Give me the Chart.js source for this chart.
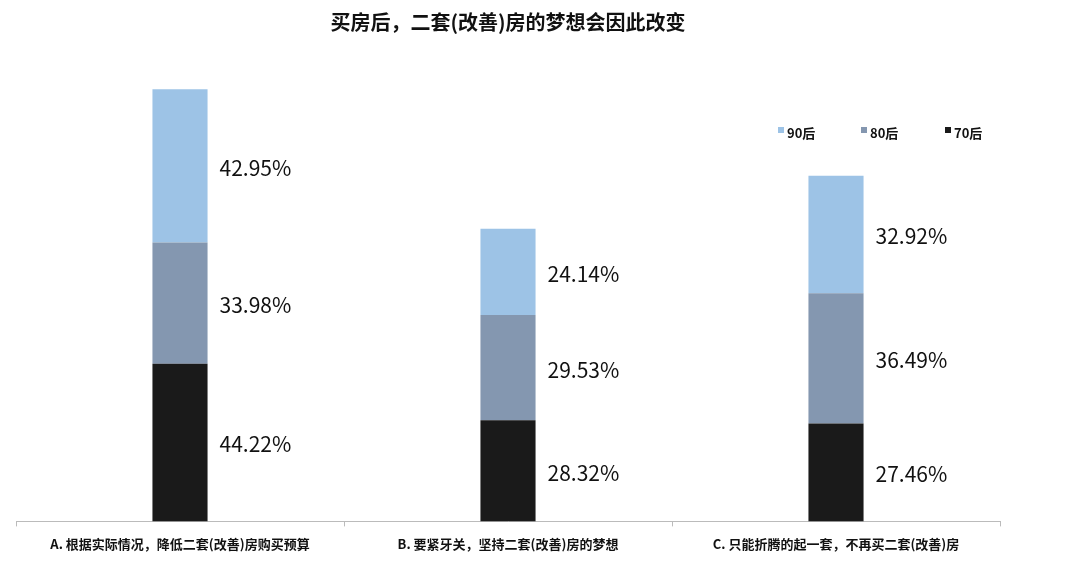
<!DOCTYPE html>
<html lang="zh">
<head>
  <meta charset="UTF-8">
  <title>买房后</title>
  <script src="https://cdn.jsdelivr.net/npm/chart.js"></script>
  <style>
    body { margin: 0; background: #fff; }
  </style>
</head>
<body>
  <canvas id="grafico" width="1080" height="569"></canvas>
  <script>
    const categorias = ['A. 根据实际情况，降低二套(改善)房购买预算', 'B. 要紧牙关，坚持二套(改善)房的梦想', 'C. 只能折腾的起一套，不再买二套(改善)房'];
    const serie70 = [44.22, 28.32, 27.46];
    const serie80 = [33.98, 29.53, 36.49];
    const serie90 = [42.95, 24.14, 32.92];
    const FONT = '"Noto Sans CJK SC", "Noto Sans", sans-serif';

    // etiquetas a la derecha de cada segmento
    const etiquetas = {
      id: 'etiquetas',
      afterDatasetsDraw(chart) {
        const ctx = chart.ctx;
        ctx.save();
        ctx.font = '21px ' + FONT;
        ctx.fillStyle = '#111';
        ctx.textBaseline = 'middle';
        chart.data.datasets.forEach((ds, i) => {
          chart.getDatasetMeta(i).data.forEach((bar, j) => {
            const y = (bar.y + bar.base) / 2;
            ctx.fillText(ds.data[j].toFixed(2) + '%', bar.x + bar.width / 2 + 12, y + 2);
          });
        });
        ctx.restore();
      }
    };

    // leyenda propia arriba a la derecha
    const leyenda = {
      id: 'leyenda',
      afterDraw(chart) {
        const ctx = chart.ctx;
        ctx.save();
        ctx.font = 'bold 13px ' + FONT;
        ctx.textBaseline = 'middle';
        const xs = [778, 861, 945];
        [2, 1, 0].forEach((i, k) => {
          const ds = chart.data.datasets[i];
          ctx.fillStyle = ds.backgroundColor;
          ctx.fillRect(xs[k], 127, 6, 6);
          ctx.fillStyle = '#111';
          ctx.fillText(ds.label, xs[k] + 9, 133);
        });
        ctx.restore();
      }
    };

    new Chart(document.getElementById('grafico'), {
      type: 'bar',
      data: {
        labels: categorias,
        datasets: [
          { label: '70后', data: serie70, backgroundColor: '#1a1a1a' },
          { label: '80后', data: serie80, backgroundColor: '#8497b0' },
          { label: '90后', data: serie90, backgroundColor: '#9dc3e6' }
        ]
      },
      options: {
        responsive: false,
        animation: false,
        devicePixelRatio: 1,
        layout: { padding: { left: 16, right: 80, top: 0, bottom: 7 } },
        datasets: { bar: { categoryPercentage: 1, barPercentage: 0.168 } },
        plugins: {
          legend: { display: false },
          tooltip: { enabled: false },
          title: {
            display: true,
            text: '买房后，二套(改善)房的梦想会因此改变',
            font: { family: FONT, size: 20, weight: 'bold' },
            color: '#111',
            padding: { top: 10, bottom: 20 }
          }
        },
        scales: {
          x: {
            stacked: true,
            offset: true,
            grid: { display: true, drawOnChartArea: false, offset: true, tickLength: 5, color: '#bbb' },
            border: { color: '#bbb' },
            ticks: { font: { family: FONT, size: 13, weight: 'bold' }, color: '#111', padding: 10, maxRotation: 0 }
          },
          y: {
            stacked: true,
            display: false,
            min: 0,
            max: 131
          }
        }
      },
      plugins: [etiquetas, leyenda]
    });
  </script>
</body>
</html>
